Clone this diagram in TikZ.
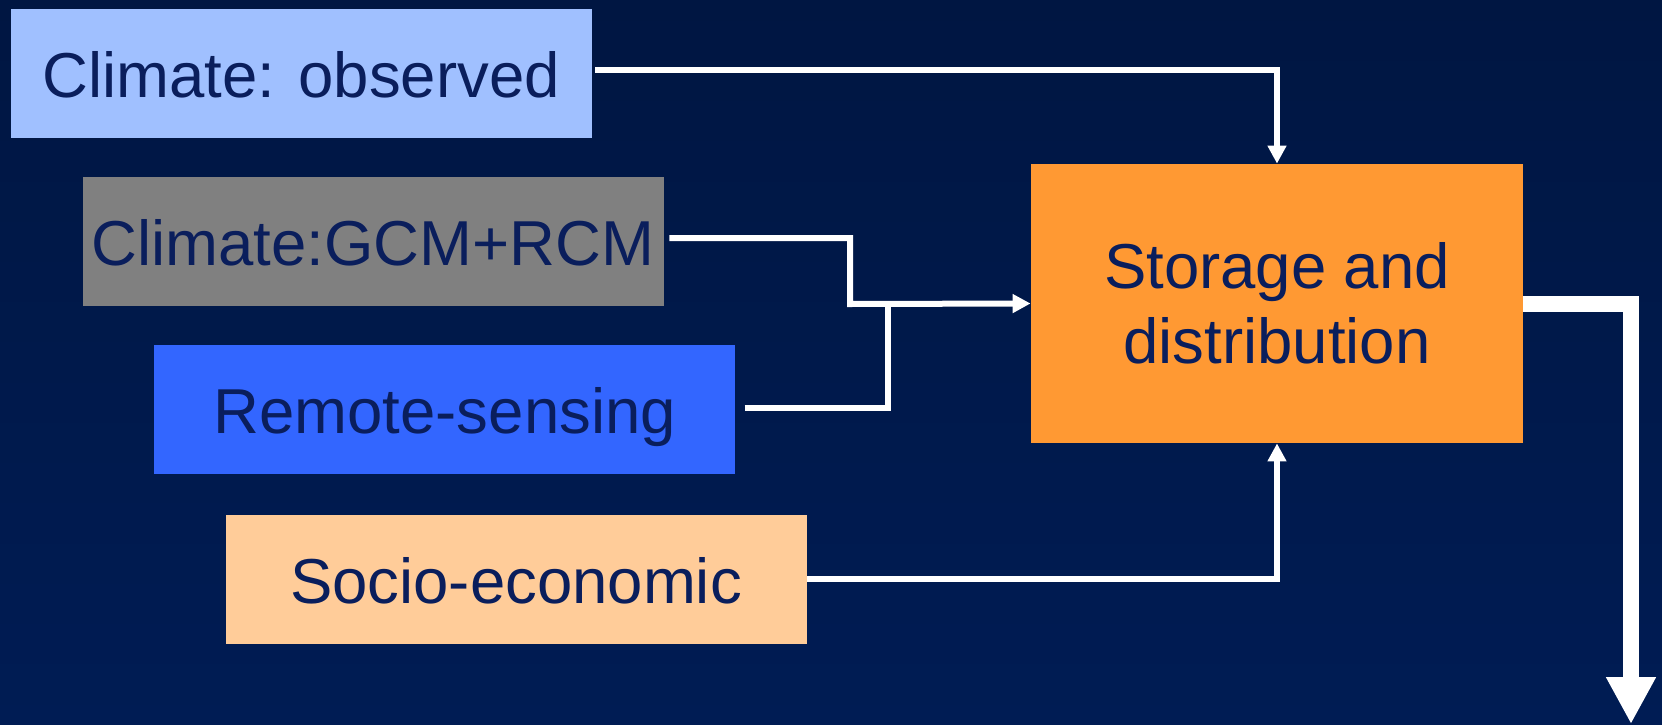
\documentclass[tikz,border=0pt]{standalone}
\usepackage{fontspec}
\setmainfont{Liberation Sans}
\usetikzlibrary{arrows.meta}
\definecolor{bgtop}{RGB}{0,22,66}
\definecolor{bgbot}{RGB}{0,28,84}
\definecolor{txt}{RGB}{10,30,92}
\definecolor{cobs}{RGB}{160,192,255}
\definecolor{cgcm}{RGB}{128,128,128}
\definecolor{crs}{RGB}{51,102,255}
\definecolor{csoc}{RGB}{255,204,153}
\definecolor{cstore}{RGB}{255,153,51}
\tikzset{
  srcbox/.style={draw=none, inner sep=0pt, minimum width=290.5pt, minimum height=64.5pt,
    text=txt, font=\fontsize{31.75pt}{37.5pt}\selectfont, text height=24pt, text depth=0pt},
  storebox/.style={draw=none, fill=cstore, inner sep=0pt, minimum width=246pt, minimum height=139.5pt,
    text=txt, font=\fontsize{31.75pt}{37.5pt}\selectfont, align=center},
  conn/.style={draw=white, line width=3pt, -{Triangle[length=9pt,width=9pt]}},
  feed/.style={draw=white, line width=3pt},
  bigout/.style={draw=white, line width=8pt, -{Triangle[length=23.5pt,width=23.5pt]}}
}
\begin{document}
\begin{tikzpicture}[x=0.5pt,y=-0.5pt]
\useasboundingbox (0,0) rectangle (1662,724);
\shade[top color=bgtop, bottom color=bgbot] (0,0) rectangle (1662,724);

\node[srcbox, fill=cobs] (obs) at (301,73) {Climate: observed};
\node[srcbox, fill=cgcm] (gcm) at (373,241.5) {Climate:GCM+RCM};
\node[srcbox, fill=crs] (rs) at (444.7,409) {Remote-sensing};
\node[srcbox, fill=csoc] (soc) at (516,579) {Socio-economic};
\node[storebox] (st) at (1277,303.5) {Storage and\\distribution};

\coordinate (j1) at (850,304);
\coordinate (j2) at (888,304);
\coordinate (out) at (1631,724);

\draw[conn] ([shift={(3.5,-3.3)}]obs.east) -| (st.north);
\draw[conn] ([shift={(5.5,-3.5)}]gcm.east) -| (j1) -- (st.west);
\draw[feed] ([shift={(9,-1.3)}]rs.east) -| (j2);
\draw[conn] (soc.east) -| (st.south);
\draw[bigout] (st.east) -| (out);
\end{tikzpicture}
\end{document}
